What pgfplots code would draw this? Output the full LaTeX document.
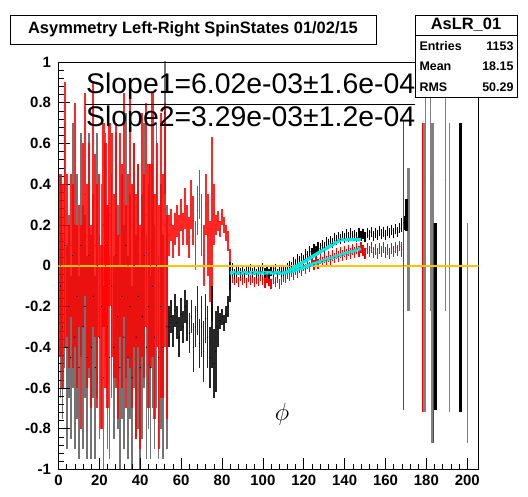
\documentclass[border=0pt]{standalone}
\usepackage{pgfplots}
\pgfplotsset{compat=1.18}
\usepackage{pgfplotstable}
\usepackage{fontspec}
\setmainfont{Liberation Sans}
\definecolor{rootcyan}{RGB}{0,230,230}
\definecolor{rootgold}{RGB}{255,195,0}

\pgfplotstableread{
x y e
1 0.0 0.45
2 -0.1 0.5
3 0.25 0.65
4 0.05 0.4
5 -0.15 0.35
6 0.1 0.35
7 -0.05 0.45
8 0.2 0.6
9 -0.2 0.4
10 0.0 0.3
11 -0.3 0.5
12 0.15 0.45
13 0.35 0.5
14 -0.1 0.5
15 0.05 0.55
16 -0.25 0.45
17 0.3 0.6
18 0.1 0.45
19 -0.15 0.55
20 0.05 0.4
21 -0.35 0.45
22 0.2 0.5
23 0.0 0.6
24 -0.2 0.5
25 0.25 0.45
26 0.1 0.55
27 -0.1 0.45
28 0.05 0.65
29 -0.3 0.45
30 0.15 0.5
31 -0.05 0.55
32 0.3 0.55
33 -0.2 0.5
34 0.0 0.45
35 0.2 0.7
36 -0.15 0.55
37 0.1 0.5
38 -0.25 0.6
39 0.05 0.45
40 -0.35 0.55
41 0.15 0.6
42 -0.05 0.5
43 0.25 0.55
44 -0.1 0.6
45 0.0 0.5
46 0.2 0.65
47 -0.2 0.55
48 0.1 0.5
49 -0.3 0.6
50 0.05 0.7
51 -0.1 0.55
52 0.2 0.6
53 -0.25 0.5
}\redA

\pgfplotstableread{
x y e
1 -0.1 0.55
2 -0.3 0.45
3 0.1 0.6
4 -0.4 0.5
5 -0.2 0.45
6 -0.45 0.4
7 0.05 0.65
8 -0.35 0.55
9 -0.15 0.6
10 -0.5 0.45
11 0.1 0.55
12 -0.3 0.6
13 -0.2 0.45
14 -0.45 0.5
15 0.05 0.6
16 -0.4 0.55
17 -0.15 0.5
18 -0.5 0.45
19 0.0 0.65
20 -0.35 0.5
21 -0.2 0.6
22 -0.55 0.45
23 0.1 0.55
24 -0.3 0.6
25 -0.45 0.5
26 -0.1 0.55
27 -0.4 0.45
28 0.05 0.6
29 -0.25 0.55
30 -0.5 0.5
31 -0.15 0.6
32 -0.35 0.55
33 0.1 0.65
34 -0.45 0.5
35 -0.2 0.55
36 -0.55 0.45
37 0.0 0.6
38 -0.35 0.5
39 -0.15 0.65
40 -0.5 0.5
41 -0.25 0.6
42 0.05 0.65
43 -0.4 0.55
44 -0.2 0.6
45 -0.5 0.45
46 -0.1 0.6
47 -0.35 0.55
48 0.0 0.7
49 -0.45 0.5
50 -0.2 0.6
51 -0.4 0.55
52 0.75 0.4
53 -0.3 0.6
}\blackA

\pgfplotstableread{
x y e
54 0.15 0.1
55 0.2 0.08
56 0.12 0.08
57 0.18 0.08
58 0.22 0.08
59 0.15 0.1
60 0.25 0.08
61 0.18 0.08
62 0.28 0.1
63 0.2 0.1
64 0.14 0.1
65 0.3 0.12
66 0.22 0.12
67 0.1 0.12
68 0.27 0.12
69 0.35 0.12
70 0.2 0.15
71 0.05 0.15
72 0.3 0.15
73 0.15 0.2
74 0.02 0.2
75 0.18 0.45
76 0.25 0.15
77 0.2 0.05
78 0.22 0.05
79 0.18 0.04
80 0.24 0.04
81 0.2 0.04
82 0.16 0.04
83 0.12 0.05
84 -0.02 0.1
}\redB

\pgfplotstableread{
x y e
54 -0.3 0.1
55 -0.25 0.08
56 -0.32 0.08
57 -0.22 0.08
58 -0.28 0.08
59 -0.35 0.1
60 -0.24 0.08
61 -0.3 0.08
62 -0.2 0.08
63 -0.27 0.1
64 -0.33 0.1
65 -0.25 0.08
66 -0.4 0.12
67 -0.3 0.1
68 -0.22 0.12
69 -0.38 0.12
70 -0.3 0.15
71 -0.42 0.15
72 -0.26 0.12
73 -0.35 0.15
74 -0.45 0.15
75 -0.3 0.2
76 -0.48 0.17
77 -0.42 0.2
78 -0.3 0.1
79 -0.27 0.04
80 -0.25 0.04
81 -0.28 0.04
82 -0.24 0.04
83 -0.2 0.05
84 -0.08 0.1
}\blackB

\pgfplotstableread{
x y e
85 -0.05 0.035
86 -0.07 0.025
87 -0.06 0.025
88 -0.08 0.025
89 -0.05 0.025
90 -0.07 0.025
91 -0.06 0.025
92 -0.085 0.025
93 -0.055 0.025
94 -0.07 0.025
95 -0.06 0.025
96 -0.08 0.025
97 -0.065 0.025
98 -0.075 0.025
99 -0.05 0.025
100 -0.07 0.025
101 -0.085 0.025
102 -0.06 0.025
103 -0.075 0.025
104 -0.09 0.025
105 -0.065 0.025
106 -0.08 0.025
107 -0.06 0.025
108 -0.09 0.025
109 -0.07 0.025
110 -0.055 0.025
111 -0.06 0.025
112 -0.04 0.025
113 -0.05 0.025
114 -0.03 0.025
115 -0.045 0.025
116 -0.02 0.025
117 -0.035 0.025
118 -0.01 0.025
119 -0.025 0.025
120 0.0 0.025
121 -0.015 0.025
122 0.01 0.025
123 -0.005 0.025
124 0.02 0.025
125 0.005 0.025
126 0.025 0.025
127 0.01 0.025
128 0.035 0.025
129 0.02 0.025
130 0.04 0.025
131 0.025 0.025
132 0.045 0.025
133 0.03 0.025
134 0.05 0.025
135 0.04 0.025
136 0.06 0.025
137 0.045 0.025
138 0.065 0.025
139 0.05 0.025
140 0.07 0.025
141 0.055 0.025
142 0.075 0.025
143 0.06 0.025
144 0.08 0.025
145 0.065 0.025
146 0.085 0.025
147 0.07 0.025
148 0.09 0.025
149 0.075 0.025
150 0.06 0.025
151 0.085 0.025
152 0.07 0.025
153 0.09 0.025
154 0.065 0.025
155 0.08 0.025
156 0.06 0.025
157 0.085 0.025
158 0.07 0.025
159 0.09 0.025
160 0.065 0.025
161 0.08 0.025
162 0.06 0.025
163 0.085 0.025
164 0.07 0.025
165 0.09 0.025
166 0.075 0.025
167 0.095 0.025
168 0.08 0.035
}\redC

\pgfplotstableread{
x y e
85 -0.02 0.035
86 -0.04 0.025
87 -0.03 0.025
88 -0.02 0.025
89 -0.035 0.025
90 -0.025 0.025
91 -0.04 0.025
92 -0.02 0.025
93 -0.03 0.025
94 -0.015 0.025
95 -0.035 0.025
96 -0.02 0.025
97 -0.04 0.025
98 -0.025 0.025
99 -0.03 0.025
100 -0.01 0.025
101 -0.035 0.025
102 -0.02 0.025
103 -0.04 0.025
104 -0.025 0.025
105 -0.03 0.025
106 -0.015 0.025
107 -0.04 0.025
108 -0.02 0.025
109 -0.03 0.025
110 -0.025 0.025
111 -0.02 0.025
112 -0.01 0.025
113 0.0 0.025
114 -0.005 0.025
115 0.02 0.025
116 0.01 0.025
117 0.035 0.025
118 0.025 0.025
119 0.04 0.025
120 0.03 0.025
121 0.055 0.025
122 0.045 0.025
123 0.07 0.025
124 0.06 0.025
125 0.08 0.025
126 0.07 0.025
127 0.09 0.025
128 0.085 0.025
129 0.1 0.025
130 0.09 0.025
131 0.115 0.025
132 0.105 0.025
133 0.12 0.025
134 0.11 0.025
135 0.135 0.025
136 0.125 0.025
137 0.14 0.025
138 0.13 0.025
139 0.145 0.025
140 0.135 0.025
141 0.155 0.025
142 0.14 0.025
143 0.16 0.025
144 0.145 0.025
145 0.15 0.025
146 0.14 0.025
147 0.16 0.025
148 0.145 0.025
149 0.155 0.025
150 0.14 0.025
151 0.16 0.025
152 0.15 0.025
153 0.165 0.025
154 0.145 0.025
155 0.16 0.025
156 0.15 0.025
157 0.17 0.025
158 0.155 0.025
159 0.165 0.025
160 0.15 0.025
161 0.17 0.025
162 0.16 0.025
163 0.175 0.025
164 0.16 0.025
165 0.18 0.025
166 0.165 0.025
167 0.185 0.025
168 0.2 0.035
169 0.21 0.035
}\blackC

\pgfplotstableread{
x y e
179.5 0.16 0.88
182 0.42 0.64
189.2 0.42 0.64
191.2 -0.01 0.71
200 -0.33 0.54
}\grayThin

\pgfplotstableread{
x y e
171.2 0.13 0.35
178.6 -0.01 0.71
183 -0.085 0.785
}\grayThick

\pgfplotstableread{
x y e
170.3 0.25 0.08
184.4 -0.25 0.46
196.6 -0.01 0.71
}\blackThick

\pgfplotstableread{
x y e
168.8 0.0 0.71
178 -0.01 0.71
183.6 -0.33 0.54
}\redSpike

\pgfplotsset{
  ebar/.style={only marks, mark=*, mark size=0.35pt,
    error bars/y dir=both, error bars/y explicit, error bars/error mark=none},
}

\begin{document}
\begin{tikzpicture}
\useasboundingbox (0,0) rectangle (528bp,497bp);
\begin{axis}[
  at={(58.5bp,27.5bp)}, anchor=south west, scale only axis,
  width=420bp, height=407.5bp,
  xmin=0, xmax=205.5, ymin=-1, ymax=1,
  xtick={0,20,...,200},
  ytick={-1,-0.8,-0.6,-0.4,-0.2,0,0.2,0.4,0.6,0.8,1},
  yticklabels={-1,-0.8,-0.6,-0.4,-0.2,0,0.2,0.4,0.6,0.8,1},
  minor x tick num=4, minor y tick num=4,
  tick align=inside, xtick pos=bottom, ytick pos=left,
  major tick length=11bp, minor tick length=5.5bp,
  tick style={black, line width=0.6bp},
  axis line style={line width=0.8bp},
  ticklabel style={font=\fontsize{15}{15}\selectfont\bfseries},
  xticklabel style={yshift=-2bp},
  yticklabel style={xshift=-4bp},
  /pgf/number format/assume math mode=true,
]
% noisy region
\addplot[ebar, black, mark options={black}, error bars/error bar style={line width=1.7pt, black, opacity=0.55}] table[x=x,y=y,y error=e] {\blackA};
\addplot[ebar, red, mark options={red}, error bars/error bar style={line width=2.2pt, red, opacity=0.85}] table[x=x,y=y,y error=e] {\redA};
% middle region
\addplot[ebar, red, mark options={red}, error bars/error bar style={line width=1.8pt, red, opacity=0.85}] table[x=x,y=y,y error=e] {\redB};
\addplot[ebar, black, mark options={black}, error bars/error bar style={line width=1.6pt, black, opacity=0.85}] table[x=x,y=y,y error=e] {\blackB};
% smooth region
\addplot[ebar, red, mark options={red}, error bars/error bar style={line width=1.2pt, red}] table[x=x,y=y,y error=e] {\redC};
\addplot[ebar, black, mark options={black}, error bars/error bar style={line width=1.2pt, black}] table[x=x,y=y,y error=e] {\blackC};
% spikes
\addplot[ebar, gray, mark options={gray}, error bars/error bar style={line width=1.2pt, black!50}] table[x=x,y=y,y error=e] {\grayThin};
\addplot[ebar, gray, mark options={gray}, error bars/error bar style={line width=3pt, black!50}] table[x=x,y=y,y error=e] {\grayThick};
\addplot[ebar, black, mark options={black}, error bars/error bar style={line width=2.4pt, black}] table[x=x,y=y,y error=e] {\blackThick};
\addplot[ebar, red, mark options={red}, error bars/error bar style={line width=1.4pt, red}] table[x=x,y=y,y error=e] {\redSpike};
% zero line
\addplot[draw=rootgold, line width=2bp, no marks] coordinates {(0,0) (205.5,0)};
% fits
\addplot[draw=rootcyan, line width=3.5bp, no marks] coordinates {(84,-0.035) (111,-0.035) (138,0.128) (148,0.128)};
\addplot[draw=rootcyan, line width=3.5bp, no marks] coordinates {(113,-0.03) (148,0.085)};
\end{axis}
% slope text
\node[anchor=base west, inner sep=0pt, font=\fontsize{28.5}{28.5}\selectfont] at (86bp,403bp) {Slope1=6.02e-03±1.6e-04};
\draw[line width=0.9bp] (85bp,393bp) -- (415bp,393bp);
\node[anchor=base west, inner sep=0pt, font=\fontsize{28.5}{28.5}\selectfont] at (86bp,370bp) {Slope2=3.29e-03±1.2e-04};
% phi
\node[inner sep=0pt, font=\fontsize{44}{44}\selectfont] at (282bp,83bp) {$\phi$};
% title box
\draw[line width=0.8bp, fill=white] (10bp,453bp) rectangle (376bp,482bp);
\node[font=\fontsize{16.5}{16.5}\selectfont\bfseries] at (193bp,467.5bp) {Asymmetry Left-Right SpinStates 01/02/15};
% stats box
\draw[line width=0.8bp, fill=white] (415bp,400bp) rectangle (517bp,482bp);
\draw[line width=0.8bp] (415bp,462bp) -- (517bp,462bp);
\node[font=\fontsize{16.5}{16.5}\selectfont\bfseries] at (466bp,472bp) {AsLR\_01};
\node[anchor=west, font=\fontsize{12.5}{12.5}\selectfont\bfseries] at (416bp,451bp) {Entries};
\node[anchor=east, font=\fontsize{12.5}{12.5}\selectfont\bfseries] at (517bp,451bp) {1153};
\node[anchor=west, font=\fontsize{12.5}{12.5}\selectfont\bfseries] at (416bp,430.5bp) {Mean};
\node[anchor=east, font=\fontsize{12.5}{12.5}\selectfont\bfseries] at (517bp,430.5bp) {18.15};
\node[anchor=west, font=\fontsize{12.5}{12.5}\selectfont\bfseries] at (416bp,410bp) {RMS};
\node[anchor=east, font=\fontsize{12.5}{12.5}\selectfont\bfseries] at (517bp,410bp) {50.29};
\end{tikzpicture}
\end{document}
